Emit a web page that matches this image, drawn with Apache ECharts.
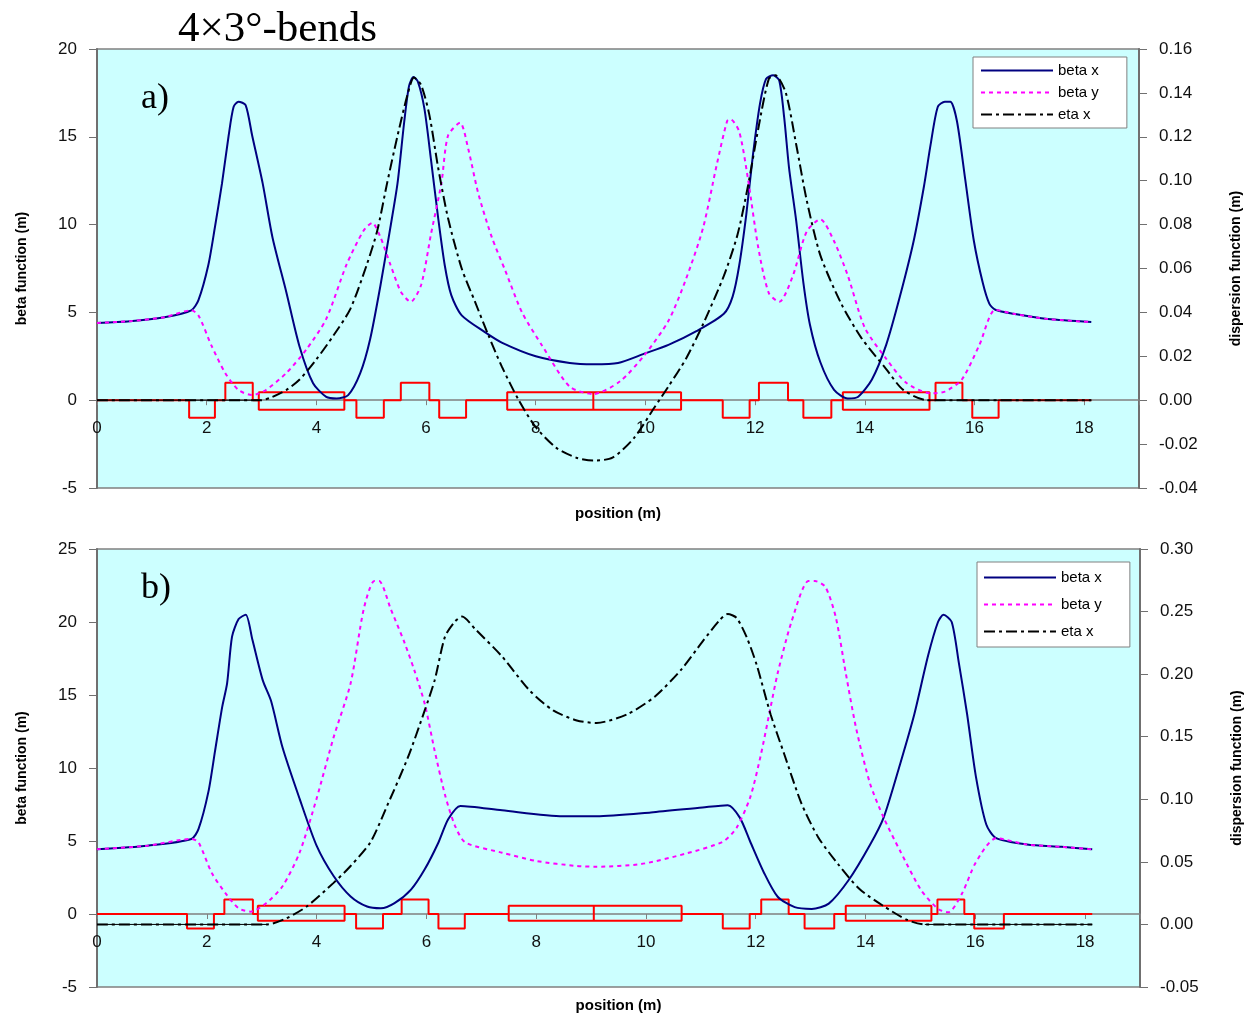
<!DOCTYPE html>
<html><head><meta charset="utf-8">
<script src="https://cdn.jsdelivr.net/npm/echarts@6/dist/echarts.min.js"></script>
<style>html,body{margin:0;padding:0;background:#fff}#c{width:1249px;height:1016px}</style>
</head><body><div id="c"></div>
<script>
// ---------- chart a) ----------
const posBxA = [0,0.6,1.23,1.72,1.85,2.03,2.15,2.28,2.40,2.49,2.58,2.71,2.83,3.02,3.2,3.45,3.69,3.94,4.18,4.37,4.58,4.8,4.98,5.17,5.35,5.48,5.6,5.69,5.77,5.85,5.97,6.09,6.22,6.34,6.46,6.65,7.08,7.38,8.0,8.62,9.05,9.5,9.98,10.42,10.93,11.43,11.59,11.71,11.84,11.96,12.09,12.2,12.33,12.44,12.53,12.62,12.75,12.88,13.0,13.19,13.44,13.69,13.88,14.13,14.39,14.64,14.89,15.08,15.2,15.33,15.46,15.56,15.68,15.83,15.99,16.15,16.27,16.38,16.71,17.34,18.13];
const betaXA = [4.40,4.5,4.73,5.12,5.7,7.7,9.85,12.36,15.06,16.7,17.0,16.8,15.06,12.36,9.27,6.18,3.09,0.97,0.19,0.1,0.29,1.54,3.47,6.56,9.85,12.36,15.8,17.9,18.4,18.15,16.6,13.7,10.4,7.7,5.98,4.83,3.86,3.28,2.5,2.12,2.05,2.12,2.65,3.15,3.93,4.92,5.9,7.67,10.6,13.96,16.9,18.3,18.5,18.2,16.1,13.2,10.2,6.7,4.3,2.16,0.59,0.1,0.2,1.18,3.15,5.9,9.05,12.2,14.55,16.7,17.0,17.0,15.9,12.6,9.05,6.7,5.5,5.15,4.92,4.62,4.45];
const posByA = [0,0.6,1.23,1.72,1.85,2.09,2.34,2.58,2.83,3.08,3.45,3.82,4.18,4.55,4.86,5.02,5.17,5.35,5.54,5.72,5.91,6.09,6.28,6.4,6.62,6.77,6.95,7.2,7.45,7.75,8.12,8.62,9.05,9.54,9.98,10.42,10.74,11.05,11.3,11.49,11.55,11.71,11.87,12.06,12.25,12.44,12.69,12.94,13.19,13.44,13.69,14.0,14.39,14.76,15.2,15.46,15.77,16.09,16.38,16.71,17.34,18.13];
const betaYA = [4.40,4.5,4.73,5.12,4.83,3.09,1.54,0.58,0.29,0.58,1.54,2.9,4.63,7.72,9.65,10.1,9.27,7.72,6.18,5.6,6.56,9.46,12.36,15.06,15.8,14.3,11.8,9.27,7.34,5.0,3.09,0.77,0.35,1.08,2.56,4.52,6.9,9.8,13.4,15.9,16.0,15.3,12.6,8.65,6.1,5.6,7.1,9.6,10.3,9.05,7.1,4.13,2.36,0.98,0.39,0.49,1.18,3.15,5.15,4.92,4.62,4.45];
const posEtaA = [0,3.0,3.2,3.45,3.69,4.0,4.31,4.62,4.92,5.11,5.29,5.48,5.66,5.78,5.91,6.06,6.22,6.4,6.65,6.89,7.14,7.38,7.69,8.0,8.37,8.74,9.05,9.4,9.79,10.17,10.42,10.74,11.05,11.43,11.68,11.87,12.06,12.25,12.37,12.56,12.75,12.94,13.19,13.57,13.94,14.39,14.7,15.14,18.13];
const etaA = [0,0,0.0015,0.0046,0.0093,0.0186,0.0294,0.0416,0.0618,0.0772,0.0989,0.1205,0.139,0.147,0.1436,0.130,0.106,0.083,0.060,0.045,0.0294,0.0154,0,-0.0123,-0.0216,-0.0262,-0.0275,-0.0262,-0.0173,-0.0031,0.0063,0.0189,0.0346,0.0566,0.0755,0.0976,0.124,0.1464,0.148,0.140,0.1164,0.0912,0.066,0.044,0.0283,0.0142,0.0047,0,0];
const quadsA = [[1.68,2.15,-1],[2.34,2.84,1],[4.73,5.23,-1],[5.54,6.06,1],[6.24,6.73,-1],[11.41,11.9,-1],[12.07,12.6,1],[12.88,13.39,-1],[15.29,15.78,1],[15.96,16.44,-1]];
const dipolesA = [[2.95,4.51],[7.48,9.05],[9.05,10.65],[13.6,15.18]];
const dipoleEdgesA = [0.45,-0.55];
const latticeEndA = 18.13;

// ---------- chart b) ----------
const posBxB = [0,0.92,1.72,1.85,2.03,2.15,2.28,2.37,2.46,2.58,2.71,2.83,3.02,3.17,3.38,3.69,4.0,4.31,4.62,4.92,5.17,5.42,5.72,5.97,6.22,6.4,6.62,7.38,8.49,9.1,10.09,11.03,11.49,11.71,11.9,12.15,12.4,12.71,13.02,13.33,13.7,14.08,14.33,14.64,14.89,15.14,15.32,15.42,15.57,15.7,15.85,16.01,16.2,16.38,16.94,17.57,18.13];
const betaXB = [4.44,4.68,5.14,5.83,8.38,11.16,14.17,15.8,19.0,20.2,20.5,18.8,16.0,14.6,11.4,7.9,4.68,2.6,1.2,0.51,0.39,0.74,1.67,3.06,4.9,6.5,7.4,7.1,6.7,6.7,6.96,7.3,7.45,6.6,4.95,2.83,1.18,0.47,0.35,0.71,2.36,4.72,6.6,10.4,13.7,17.7,20.0,20.5,20.0,17.2,13.7,9.43,6.13,5.19,4.76,4.6,4.43];
const posByB = [0,0.92,1.72,1.85,2.09,2.34,2.58,2.8,3.08,3.38,3.69,4.0,4.31,4.62,4.86,5.05,5.14,5.35,5.6,5.78,5.97,6.15,6.34,6.52,6.71,7.38,8.0,8.74,9.1,9.91,10.72,11.4,11.65,11.9,12.09,12.27,12.4,12.65,12.96,13.08,13.27,13.46,13.64,13.83,14.08,14.33,14.64,15.01,15.32,15.51,15.76,16.01,16.38,16.94,17.57,18.13];
const betaYB = [4.44,4.68,5.14,4.9,2.82,1.43,0.39,0.16,0.74,1.9,4.2,7.9,12.1,15.8,20.9,22.8,22.8,20.9,18.6,16.7,14.4,11.2,8.15,6.06,4.9,4.2,3.63,3.29,3.24,3.42,4.13,4.95,5.9,8.0,10.85,14.15,16.5,20.0,22.8,22.8,22.4,20.3,16.5,12.7,8.96,6.6,4.25,1.65,0.35,0.12,1.42,3.54,5.19,4.76,4.6,4.43];
const posEtaB = [0,3.1,3.45,3.82,4.31,4.62,4.98,5.29,5.66,5.97,6.15,6.34,6.52,6.65,6.89,7.38,7.88,8.31,8.74,9.1,9.66,10.16,10.65,11.03,11.34,11.49,11.65,11.84,12.02,12.27,12.52,12.83,13.14,13.51,13.89,14.33,14.76,15.08,18.13];
const etaB = [0,0,0.0049,0.0143,0.0332,0.0467,0.0656,0.0953,0.133,0.171,0.195,0.230,0.242,0.246,0.236,0.214,0.187,0.171,0.163,0.161,0.168,0.182,0.204,0.226,0.243,0.248,0.245,0.229,0.207,0.168,0.136,0.097,0.0695,0.0476,0.0283,0.0146,0.0036,0,0];
const quadsB = [[1.64,2.13,-1],[2.32,2.84,1],[4.72,5.21,-1],[5.55,6.04,1],[6.22,6.70,-1],[11.4,11.89,-1],[12.1,12.6,1],[12.89,13.43,-1],[15.31,15.8,1],[15.98,16.52,-1]];
const dipolesB = [[2.93,4.51],[7.5,9.05],[9.05,10.65],[13.64,15.2]];
const dipoleEdgesB = [0.57,-0.46];
const latticeEndB = 18.13;

// ---------- texts ----------
const titleText = '4×3°-bends';
const panelLabels = ['a)', 'b)'];
const legendNames = ['beta x', 'beta y', 'eta x'];

const zip = (xs, ys) => xs.map((x, i) => [x, ys[i]]);
function latticePath(quads, dipoles, edges, end) {
  const els = quads.map(q => ({s: q[0], e: q[1], h: q[2], d: false}))
    .concat(dipoles.map(d => ({s: d[0], e: d[1], d: true})))
    .sort((a, b) => a.s - b.s);
  const pts = [[0, 0]];
  els.forEach(el => {
    if (!el.d) pts.push([el.s, 0], [el.s, el.h], [el.e, el.h], [el.e, 0]);
    else pts.push([el.s, 0], [el.s, edges[0]], [el.e, edges[0]], [el.e, edges[1]], [el.s, edges[1]], [el.s, 0], ['-', '-'], [el.e, 0]);
  });
  pts.push([end, 0]);
  return pts;
}
const zeroOnly = (xs, ys) => xs.map((x, i) => [x, ys[i] === 0 ? 0 : '-']);

const FONT = 'Arial, "Liberation Sans", sans-serif';
const gridDefs = [{left: 97, top: 49, width: 1042, height: 439}, {left: 97, top: 549, width: 1043, height: 438}];
// x axis drawn on the beta = 0 line: shift up from the grid bottom
const zeroShift = [-(439 * 5 / 25), -(438 * 5 / 30)];

function xAxisDef(gi, gap) {
  return {
    type: 'value', gridIndex: gi, min: 0, max: 19, interval: 2, position: 'bottom', offset: zeroShift[gi],
    axisLine: {show: true, onZero: false, lineStyle: {color: '#808080', width: 1.5}},
    axisTick: {show: true, length: 5, lineStyle: {color: '#808080'}},
    axisLabel: {fontSize: 17, color: '#111', fontFamily: FONT, margin: 20, formatter: v => v > 18.5 ? '' : String(v)},
    splitLine: {show: false},
    name: 'position (m)', nameLocation: 'middle', nameGap: gap,
    nameTextStyle: {fontSize: 15, fontWeight: 'bold', color: '#000', fontFamily: FONT}
  };
}
function yLeft(gi, min, max, interval) {
  return {
    type: 'value', gridIndex: gi, min, max, interval, position: 'left',
    axisLine: {show: true, onZero: false, lineStyle: {color: '#707070', width: 2}},
    axisTick: {show: true, length: 8, lineStyle: {color: '#707070'}},
    axisLabel: {fontSize: 17, color: '#111', fontFamily: FONT, margin: 20},
    splitLine: {show: false},
    name: 'beta function (m)', nameLocation: 'middle', nameRotate: 90, nameGap: 68,
    nameTextStyle: {fontSize: 14, fontWeight: 'bold', color: '#000', fontFamily: FONT}
  };
}
function yRight(gi, min, max, interval) {
  return {
    type: 'value', gridIndex: gi, min, max, interval, position: 'right',
    axisLine: {show: true, onZero: false, lineStyle: {color: '#707070', width: 2}},
    axisTick: {show: true, length: 8, lineStyle: {color: '#707070'}},
    axisLabel: {fontSize: 17, color: '#111', fontFamily: FONT, margin: 20, formatter: v => v.toFixed(2)},
    splitLine: {show: false},
    name: 'dispersion function (m)', nameLocation: 'middle', nameRotate: 90, nameGap: 90,
    nameTextStyle: {fontSize: 14, fontWeight: 'bold', color: '#000', fontFamily: FONT}
  };
}
function seriesFor(gi, yl, yr, bx, by, eta, lattice, etaZero) {
  const base = {type: 'line', xAxisIndex: gi, symbol: 'none', animation: false};
  return [
    Object.assign({}, base, {name: 'magnets', yAxisIndex: yl, data: lattice, lineStyle: {color: '#ff0000', width: 2}, z: 2}),
    Object.assign({}, base, {name: 'beta x', yAxisIndex: yl, data: bx, smooth: 0.25, lineStyle: {color: '#000080', width: 2}, itemStyle: {color: '#000080'}, z: 3}),
    Object.assign({}, base, {name: 'beta y', yAxisIndex: yl, data: by, smooth: 0.25, lineStyle: {color: '#ff00ff', width: 2, type: [4, 4]}, itemStyle: {color: '#ff00ff'}, z: 4}),
    Object.assign({}, base, {name: 'eta x', yAxisIndex: yr, data: eta, smooth: 0.25, lineStyle: {color: '#000000', width: 2, type: [11, 4, 3, 4]}, itemStyle: {color: '#000'}, z: 5}),
    Object.assign({}, base, {name: 'eta zero', yAxisIndex: yr, data: etaZero, lineStyle: {color: '#000000', width: 1}, z: 5})
  ];
}
function legendDef(left, top, gap, pad) {
  return {
    orient: 'vertical', left, top, data: legendNames, selectedMode: false,
    itemWidth: 72, itemHeight: 14, itemGap: gap, padding: pad,
    backgroundColor: '#ffffff', borderColor: '#808080', borderWidth: 1, borderRadius: 0,
    itemStyle: {opacity: 0},
    textStyle: {fontSize: 15, color: '#000', fontFamily: FONT}
  };
}

const SERIF = '"Liberation Serif", "Times New Roman", serif';
const chart = echarts.init(document.getElementById('c'), null, {renderer: 'canvas'});
chart.setOption({
  backgroundColor: '#ffffff',
  animation: false,
  title: [
    {text: titleText, left: 173, top: 3, textStyle: {fontFamily: SERIF, fontSize: 43, fontWeight: 'normal', color: '#000'}},
    {text: panelLabels[0], left: 136, top: 76, textStyle: {fontFamily: SERIF, fontSize: 36, fontWeight: 'normal', color: '#000'}},
    {text: panelLabels[1], left: 136, top: 566, textStyle: {fontFamily: SERIF, fontSize: 36, fontWeight: 'normal', color: '#000'}}
  ],
  legend: [legendDef(973, 57, 7, [6, 28, 6, 7]), legendDef(977, 562, 12, [8, 28, 8, 6])],
  grid: gridDefs.map(g => Object.assign({show: true, outerBoundsMode: 'none', containLabel: false, backgroundColor: '#ccffff', borderColor: '#808080', borderWidth: 1.5}, g)),
  xAxis: [xAxisDef(0, 106), xAxisDef(1, 84)],
  yAxis: [yLeft(0, -5, 20, 5), yRight(0, -0.04, 0.16, 0.02), yLeft(1, -5, 25, 5), yRight(1, -0.05, 0.30, 0.05)],
  series: [].concat(
    seriesFor(0, 0, 1, zip(posBxA, betaXA), zip(posByA, betaYA), zip(posEtaA, etaA), latticePath(quadsA, dipolesA, dipoleEdgesA, latticeEndA), zeroOnly(posEtaA, etaA)),
    seriesFor(1, 2, 3, zip(posBxB, betaXB), zip(posByB, betaYB), zip(posEtaB, etaB), latticePath(quadsB, dipolesB, dipoleEdgesB, latticeEndB), zeroOnly(posEtaB, etaB))
  )
});
</script>
</body></html>
